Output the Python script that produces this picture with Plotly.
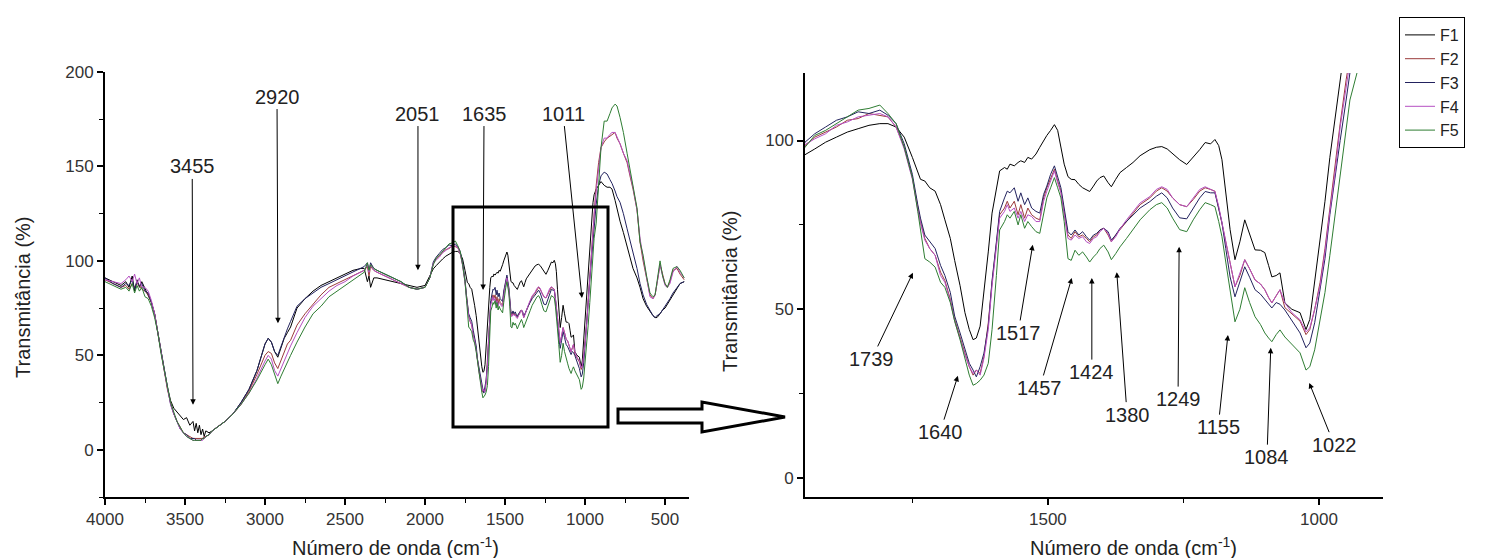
import plotly.graph_objects as go

# ---------------- data ----------------
wavenumber = [
    4000, 3950, 3900, 3870, 3850, 3830, 3815, 3800, 3785, 3770, 3750, 3730, 3710, 3690, 3670,
    3650, 3630, 3610, 3590, 3570, 3550, 3530, 3510, 3490, 3470, 3450, 3440, 3430, 3420, 3410,
    3400, 3390, 3380, 3370, 3350, 3330, 3300, 3250, 3200, 3150, 3100, 3050, 3000, 2980, 2960,
    2940, 2920, 2900, 2880, 2860, 2840, 2800, 2750, 2700, 2650, 2600, 2550, 2500, 2450, 2400,
    2380, 2360, 2350, 2340, 2320, 2300, 2250, 2200, 2150, 2100, 2050, 2000, 1970,
    1948, 1930, 1910, 1890, 1870, 1850, 1830, 1810, 1795, 1780, 1765, 1750, 1740, 1735, 1727,
    1718, 1708, 1698, 1690, 1680, 1672, 1662, 1653, 1645, 1638, 1632, 1625, 1618, 1610, 1603,
    1595, 1589, 1580, 1575, 1570, 1562, 1555, 1550, 1543, 1537, 1530, 1522, 1515, 1508, 1502,
    1495, 1488, 1482, 1476, 1470, 1463, 1457, 1450, 1443, 1436, 1429, 1423, 1416, 1410, 1404,
    1397, 1389, 1383, 1375, 1367, 1355, 1343, 1330, 1312, 1300, 1290, 1280, 1270, 1257, 1244,
    1232, 1220, 1210, 1200, 1192, 1185, 1179, 1172, 1164, 1155, 1146, 1137, 1128, 1118, 1108,
    1100, 1093, 1087, 1079, 1072, 1063, 1050, 1035, 1024, 1017, 1008, 998, 989, 980, 970,
    961, 950, 943, 930, 915, 900, 880,
    862, 844, 831, 812, 800, 781, 760, 737, 719, 700, 675, 656, 637, 615, 594,
    575, 562, 550, 531, 515, 500, 485, 469, 450, 425, 406, 380,
]

F1 = [
    91, 89, 87, 89, 86, 92, 84, 90, 86, 89, 85, 82, 78, 72, 62,
    52, 42, 33, 26, 22, 20, 18, 16, 17, 13, 15, 10, 14, 9, 13,
    8, 11, 7, 10, 9, 10, 12, 15, 19, 25, 32, 42, 56, 59, 57,
    52, 49, 54, 59, 62, 65, 75, 80, 84, 87, 89, 91, 93, 95, 96,
    96, 89, 92, 86, 91, 91, 90, 89, 88, 87, 86, 87, 92,
    95.8, 97.5, 99.5, 101, 102.5, 103.5, 104.5, 105, 105, 104, 101, 95, 90.5, 88.5, 88,
    86, 85, 81, 76.5, 71, 64.5, 57, 49, 44, 41, 41.5, 45, 55, 67, 78.5,
    86, 91, 92, 91.5, 93, 92.5, 93.5, 94, 93.5, 95, 94.5, 96, 98, 100, 101.5,
    103, 104.7, 103, 97.5, 93, 89.3, 88.5, 88.4, 87, 86, 85.5, 84.9, 86.5, 88, 89,
    89.5, 87.5, 86.3, 88.5, 90.5, 92, 93.5, 95.5, 97.3, 98, 98.2, 97.5, 96, 94.3, 92.9,
    95, 97.3, 99.4, 99, 100.3, 98.5, 94.3, 85, 73.6, 64.7, 70, 76.5, 72, 67.6, 67.5,
    66.8, 63, 59.6, 60, 60.8, 51.9, 50, 49, 44, 47, 58, 70, 82, 95, 108,
    120, 131, 135, 138, 140, 142, 140,
    139, 139, 138, 132, 127, 121, 115, 107, 102, 96, 91, 86, 80, 76, 73,
    71, 70, 70, 72, 74, 75, 77, 79, 82, 85, 88, 89,
]

F2 = [
    90, 88, 86, 87, 85, 88, 86, 88, 87, 85, 84, 82, 78, 72, 63,
    52, 42, 32, 25, 19, 15, 12, 9, 8, 7, 6, 6, 6, 6, 6,
    6, 6, 7, 7, 8, 10, 12, 15, 19, 24, 31, 40, 50, 52, 51,
    46, 43, 47, 52, 56, 58, 66, 72, 77, 82, 86, 88, 90, 92, 94,
    95, 97, 92, 97, 95, 94, 92, 90, 88, 86, 85, 86, 91,
    98.5, 101, 102.5, 104, 106, 106.5, 108, 107.5, 107, 104, 98, 89, 80, 76, 71,
    68, 66, 61, 58.5, 53, 47, 41.5, 37, 33, 30.5, 32, 31, 36, 46, 58,
    70, 78, 80, 82, 80, 82, 78, 81, 77, 80, 78, 77, 76.5, 83, 86,
    89, 91.5, 88, 85, 79, 72, 71, 73, 71.5, 72, 71, 70, 71.5, 72, 73.5,
    74, 72, 70, 72, 73.6, 76, 78.6, 81, 83, 85, 86, 85, 83, 81, 80.4,
    82.5, 85, 86, 85.5, 85, 80, 75.7, 70, 63.8, 56.7, 60, 64.7, 62, 58.7, 57.5,
    55.8, 53.5, 51.9, 54, 55.8, 50.5, 48.5, 46.5, 42.5, 44, 50, 58, 68, 80, 92,
    105, 118, 125, 140, 152, 160, 163,
    165, 166, 167, 168, 165, 162, 157, 152, 145, 138, 127, 110, 100, 90, 82,
    80, 82, 88, 98, 93, 88, 86, 89, 95, 96, 93, 90,
]

F3 = [
    91, 88, 86, 88, 87, 90, 85, 89, 87, 88, 84, 83, 78, 72, 62,
    52, 42, 32, 24, 19, 15, 11, 9, 8, 6, 6, 6, 5, 5, 5,
    5, 6, 6, 7, 8, 10, 12, 15, 19, 25, 32, 42, 56, 59, 57,
    52, 50, 55, 60, 64, 68, 76, 80, 83, 86, 88, 90, 92, 94, 96,
    97, 99, 95, 99, 96, 95, 93, 91, 89, 86, 85, 86, 91,
    99.5, 102, 104, 106, 107, 108.5, 108, 109, 107.5, 105, 99, 90, 81, 77, 72,
    70, 68, 63, 60, 55, 48, 43, 38, 34, 32, 30, 33, 37, 45, 58.5,
    70, 79, 83, 85, 84.5, 86, 82, 84.5, 81, 83, 80, 79, 78.5, 84, 86.5,
    90, 92.5, 89, 86, 80, 73, 72, 73.5, 72, 73, 71.5, 70.5, 72, 72.5, 73.5,
    74, 73, 70.5, 72, 74, 76, 78, 80, 81.9, 83.5, 84.5, 83, 80, 77.1, 76.8,
    80, 83, 84.9, 84.5, 84.5, 80, 75.7, 68, 59.6, 53.7, 58, 62.6, 59.5, 55.8, 54.5,
    52.8, 51.5, 50.4, 52, 51.5, 49.8, 46.5, 43, 38.6, 40, 46, 56, 65, 78, 90,
    100, 112, 120, 130, 140, 145, 147,
    146, 143, 141, 137, 134, 131, 125, 117, 111, 104, 96, 88, 82, 77, 74,
    71, 70, 71, 72, 74, 76, 78, 80, 83, 86, 88, 89,
]

F4 = [
    90, 89, 88, 90, 92, 89, 93, 88, 91, 86, 86, 84, 79, 72, 63,
    52, 42, 32, 24, 19, 15, 11, 9, 7, 6, 5, 5, 5, 5, 5,
    5, 5, 6, 7, 8, 10, 12, 15, 19, 24, 30, 38, 47, 50, 48,
    42, 39, 43, 48, 52, 55, 62, 70, 76, 80, 84, 87, 89, 92, 94,
    95, 98, 94, 98, 95, 94, 92, 90, 88, 86, 85, 86, 91,
    98.8, 100.5, 102, 104.5, 105.5, 107, 107.5, 108, 107, 104, 97.5, 88.5, 79.5, 75.5, 70.5,
    68, 66, 60, 58, 52.5, 46.5, 41, 36.5, 33, 31, 32, 30.5, 35.5, 44, 57,
    69, 77, 79, 81, 79, 80, 77, 79, 76, 78, 77.5, 76, 76, 82, 85,
    88, 91, 87.5, 84.5, 78, 71, 70.5, 72, 71, 71.5, 70, 69.5, 71, 71.5, 73,
    74, 72.5, 70, 71.5, 73.8, 76.5, 79, 81.5, 83.4, 85.5, 86.3, 85.5, 83, 81, 80.4,
    83, 85.5, 86.3, 85.5, 84.9, 80.5, 76, 70, 63.8, 56.7, 60.5, 64.7, 62, 58.7, 57.5,
    55.8, 53.5, 51.9, 54, 55.8, 51.9, 49, 46.9, 43.3, 44.5, 50, 57, 67, 79, 91,
    104, 117, 124, 137, 150, 160, 165,
    165, 167, 168, 168, 166, 162, 157, 153, 146, 139, 127, 112, 102, 90, 81,
    80, 82, 88, 98, 92, 87, 86, 88, 94, 97, 94, 91,
]

F5 = [
    89, 87, 85, 86, 84, 88, 83, 87, 84, 86, 81, 80, 76, 70, 62,
    51, 42, 33, 25, 20, 15, 12, 9, 7, 6, 5, 5, 5, 5, 5,
    5, 6, 6, 7, 8, 10, 12, 15, 19, 24, 30, 37, 45, 48, 45,
    40, 35, 39, 43, 47, 50, 57, 65, 72, 76, 81, 84, 87, 90, 93,
    94, 99, 95, 98, 96, 95, 93, 91, 89, 86, 85, 86, 91,
    98, 101.5, 103, 105, 107, 109, 109.5, 110.5, 108, 105, 98, 89, 79, 73.5, 65,
    64, 62.5, 58, 56.5, 52, 46.5, 41, 35, 30.5, 27.5, 28, 29, 30.5, 34, 44,
    60, 73.5, 76, 78, 77, 79, 75, 78, 74, 76, 74.5, 73, 72.5, 78, 83,
    86, 89, 86, 83, 76, 65, 64.5, 67.5, 66, 67, 65.5, 64, 65.5, 66.5, 68,
    69, 67, 64.7, 66.5, 68.5, 71, 73.6, 76.5, 79.5, 81, 81.6, 80, 77, 73.6, 73,
    76.5, 79.5, 81.6, 81, 80.4, 76, 71.5, 64, 55.8, 46.3, 50, 56.4, 52, 47.8, 45.5,
    43, 41.5, 40.4, 42.5, 43.9, 41.8, 39.5, 37.1, 32, 33, 38, 47, 55, 66, 78,
    90, 103, 112, 120, 140, 160, 174,
    174, 178, 181, 183, 182, 176, 168, 157, 148, 140, 128, 110, 103, 92, 83,
    81, 82, 89, 100, 92, 88, 86, 90, 96, 97, 95, 91,
]

series_names = ["F1", "F2", "F3", "F4", "F5"]
series_values = [F1, F2, F3, F4, F5]
series_colors = ["#000000", "#9a3a3a", "#22225e", "#b64fc2", "#2e7d32"]

left_ticks = [4000, 3500, 3000, 2500, 2000, 1500, 1000, 500]
left_yticks = [0, 50, 100, 150, 200]
right_ticks = [1500, 1000]
right_yticks = [0, 50, 100]

# peak labels: (label, head wavenumber, head value, text wavenumber, text value)
left_peaks = [
    ("3455", 3450, 23.8, 3455, 150),
    ("2920", 2919, 67, 2925, 187),
    ("2051", 2044, 95, 2044, 178),
    ("1635", 1637, 84.6, 1631, 178),
    ("1011", 1019, 80.4, 1137, 178),
]
right_peaks = [
    ("1739", 1749, 60.8, 1825, 35.3),
    ("1640", 1666, 30.3, 1699, 13.6),
    ("1517", 1528, 69.1, 1555, 43.0),
    ("1457", 1456, 59.3, 1515, 26.7),
    ("1424", 1419, 59.3, 1419, 31.4),
    ("1380", 1373, 61.0, 1354, 18.8),
    ("1249", 1258, 68.5, 1260, 23.4),
    ("1155", 1168, 42.4, 1186, 15.1),
    ("1084", 1089, 38.6, 1096, 6.2),
    ("1022", 1018, 28.2, 972, 9.9),
]

for arr in series_values:
    assert len(arr) == len(wavenumber), len(arr)

# ---------------- figure ----------------
W, H = 1488, 558
FONT = "Liberation Sans, Arial, sans-serif"

fig = go.Figure()
for name, vals, col in zip(series_names, series_values, series_colors):
    fig.add_trace(go.Scatter(x=wavenumber, y=vals, mode="lines", name=name,
                             legendgroup=name, line=dict(color=col, width=1),
                             xaxis="x", yaxis="y"))
for name, vals, col in zip(series_names, series_values, series_colors):
    fig.add_trace(go.Scatter(x=wavenumber, y=vals, mode="lines", name=name,
                             legendgroup=name, showlegend=False,
                             line=dict(color=col, width=1),
                             xaxis="x2", yaxis="y2"))

def px_x(p):
    return p / W

def px_y(p):
    return 1 - p / H

axis_common = dict(showgrid=False, zeroline=False, showline=True, linecolor="black",
                   linewidth=2, ticks="outside", ticklen=6, tickwidth=1.5, tickcolor="black",
                   tickfont=dict(family=FONT, size=17, color="#333"), mirror=False,
                   automargin=False)

minor_common = dict(ticks="outside", ticklen=4, tickcolor="black", tickwidth=1.2)

fig.update_layout(
    width=W, height=H,
    margin=dict(l=0, r=0, t=0, b=0, autoexpand=False),
    paper_bgcolor="white", plot_bgcolor="white",
    font=dict(family=FONT, color="#222"),
    xaxis=dict(domain=[px_x(105), px_x(689)], range=[4000, 350], tickvals=left_ticks,
               minor=dict(dtick=250, tick0=0, **minor_common),
               anchor="y", **axis_common),
    yaxis=dict(domain=[px_y(497), px_y(72)], range=[-25, 200], tickvals=left_yticks,
               minor=dict(dtick=25, tick0=0, **minor_common),
               anchor="x", **axis_common),
    xaxis2=dict(domain=[px_x(805), px_x(1383)], range=[1948, 882], tickvals=right_ticks,
                minor=dict(dtick=250, tick0=0, **minor_common),
                anchor="y2", **axis_common),
    yaxis2=dict(domain=[px_y(497), px_y(73)], range=[-5.6, 120], tickvals=right_yticks,
                minor=dict(dtick=25, tick0=0, **minor_common),
                anchor="x2", **axis_common),
    legend=dict(x=px_x(1399), y=px_y(17), xanchor="left", yanchor="top",
                bordercolor="black", borderwidth=1, bgcolor="white",
                font=dict(family=FONT, size=16, color="#222"), tracegroupgap=0),
    showlegend=True,
)

annotations = []
for lab, hx, hy, tx, ty in left_peaks:
    annotations.append(dict(x=hx, y=hy, ax=tx, ay=ty, xref="x", yref="y", axref="x", ayref="y",
                            text=lab, showarrow=True, arrowhead=2, arrowsize=1.1, arrowwidth=1,
                            arrowcolor="black", standoff=0,
                            font=dict(family=FONT, size=20, color="#222")))
for lab, hx, hy, tx, ty in right_peaks:
    annotations.append(dict(x=hx, y=hy, ax=tx, ay=ty, xref="x2", yref="y2", axref="x2", ayref="y2",
                            text=lab, showarrow=True, arrowhead=2, arrowsize=1.1, arrowwidth=1,
                            arrowcolor="black", standoff=0,
                            font=dict(family=FONT, size=20, color="#222")))

title_font = dict(family=FONT, size=20, color="#222")
title_common = dict(xref="paper", yref="paper", showarrow=False, font=title_font,
                    xanchor="center", yanchor="middle")
annotations += [
    dict(x=px_x(23), y=px_y(297), text="Transmitância (%)", textangle=-90, **title_common),
    dict(x=px_x(730), y=px_y(291), text="Transmitância (%)", textangle=-90, **title_common),
    dict(x=px_x(395), y=px_y(546), text="Número de onda (cm<sup>-1</sup>)", **title_common),
    dict(x=px_x(1133), y=px_y(546), text="Número de onda (cm<sup>-1</sup>)", **title_common),
]
fig.update_layout(annotations=annotations)

# zoom box on the left panel and the hollow arrow pointing to the right panel
shapes = [
    dict(type="rect", xref="paper", yref="paper",
         x0=px_x(453), x1=px_x(608), y0=px_y(427), y1=px_y(207),
         line=dict(color="black", width=3)),
]
pts = [(618, 409), (702, 409), (702, 402), (785, 417), (702, 432), (702, 423), (618, 423)]
path = "M " + " L ".join(f"{px_x(a):.5f},{px_y(b):.5f}" for a, b in pts) + " Z"
shapes.append(dict(type="path", xref="paper", yref="paper", path=path,
                   line=dict(color="black", width=3), fillcolor="white"))
fig.update_layout(shapes=shapes)

fig.write_html("out.html", config={"displayModeBar": False},
               post_script="document.body.style.margin='0px';document.body.style.overflow='hidden';")
